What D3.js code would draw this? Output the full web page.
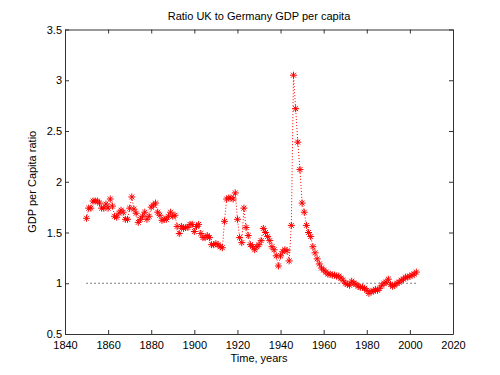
<!DOCTYPE html>
<html>
<head>
<meta charset="utf-8">
<script src="https://cdn.jsdelivr.net/npm/d3@7"></script>
<style>
  body { margin: 0; background: #fff; }
  svg text { font-family: "Liberation Sans", Arial, sans-serif; font-size: 11px; fill: #000; }
</style>
</head>
<body>
<div id="chart"></div>
<script>
// Ratio UK / Germany GDP per capita, one value per year from 1850
const firstYear = 1850;
const ratio = [
    1.64, 1.74, 1.74, 1.81, 1.81, 1.81, 1.79, 1.74, 1.74, 1.78,
    1.74, 1.83, 1.76, 1.66, 1.65, 1.69, 1.72, 1.70, 1.63, 1.63,
    1.74, 1.85, 1.73, 1.69, 1.60, 1.63, 1.66, 1.70, 1.63, 1.66,
    1.75, 1.77, 1.79, 1.70, 1.67, 1.62, 1.63, 1.63, 1.66, 1.70,
    1.66, 1.67, 1.56, 1.49, 1.56, 1.54, 1.55, 1.55, 1.58, 1.58,
    1.51, 1.56, 1.58, 1.49, 1.45, 1.45, 1.47, 1.45, 1.38, 1.38,
    1.39, 1.38, 1.36, 1.35, 1.61, 1.83, 1.84, 1.84, 1.83, 1.89,
    1.63, 1.45, 1.40, 1.74, 1.55, 1.47, 1.38, 1.36, 1.33, 1.36,
    1.38, 1.42, 1.54, 1.50, 1.46, 1.42, 1.36, 1.33, 1.27, 1.17,
    1.27, 1.31, 1.33, 1.32, 1.22, 1.57, 3.05, 2.72, 2.39, 2.12,
    1.79, 1.70, 1.57, 1.50, 1.46, 1.36, 1.30, 1.24, 1.19, 1.15,
    1.13, 1.11, 1.09, 1.09, 1.08, 1.08, 1.07, 1.07, 1.05, 1.03,
    1.00, 0.99, 0.98, 1.02, 1.00, 0.99, 0.97, 0.96, 0.96, 0.95,
    0.93, 0.90, 0.92, 0.92, 0.94, 0.93, 0.95, 0.98, 1.00, 1.01,
    1.04, 0.99, 0.97, 0.98, 1.00, 1.01, 1.03, 1.04, 1.06, 1.06,
    1.07, 1.08, 1.09, 1.11
];
const years = ratio.map((d, i) => firstYear + i);
const parityLevel = 1;

const xTicks = [1840, 1860, 1880, 1900, 1920, 1940, 1960, 1980, 2000, 2020];
const yTicks = [0.5, 1, 1.5, 2, 2.5, 3, 3.5];

const width = 500, height = 375;
const margin = { top: 29.5, right: 47, bottom: 41, left: 65 };

const svg = d3.select('#chart')
    .append('svg')
    .attr('width', width)
    .attr('height', height);

const x = d3.scaleLinear().domain([1840, 2020]).range([margin.left, width - margin.right]);
const y = d3.scaleLinear().domain([0.5, 3.5]).range([height - margin.bottom, margin.top]);

const data = years.map((yr, i) => ({ year: yr, value: ratio[i] }));

// axes box, matlab style ticks pointing inward
const tickLen = 4;
const axisColor = '#333';

const axes = [
    { axis: d3.axisBottom(x).tickValues(xTicks).tickFormat(d3.format('d')), pos: `translate(0,${y(0.5)})`, pad: 7 },
    { axis: d3.axisTop(x).tickValues(xTicks).tickFormat(''), pos: `translate(0,${y(3.5)})`, pad: 3 },
    { axis: d3.axisLeft(y).tickValues(yTicks).tickFormat(d3.format('')), pos: `translate(${x(1840)},0)`, pad: 3 },
    { axis: d3.axisRight(y).tickValues(yTicks).tickFormat(''), pos: `translate(${x(2020)},0)`, pad: 3 }
];

axes.forEach(a => {
    const g = svg.append('g')
        .attr('transform', a.pos)
        .call(a.axis.tickSizeInner(-tickLen).tickSizeOuter(0).tickPadding(a.pad));
    g.select('.domain').attr('stroke', axisColor);
    g.selectAll('.tick line').attr('stroke', axisColor);
    g.selectAll('.tick text')
        .style('font-family', '"Liberation Sans", Arial, sans-serif')
        .style('font-size', '11px')
        .attr('fill', '#000');
});

// parity reference line
svg.append('line')
    .attr('x1', x(years[0]))
    .attr('x2', x(years[years.length - 1]))
    .attr('y1', y(parityLevel))
    .attr('y2', y(parityLevel))
    .attr('stroke', '#000')
    .attr('stroke-width', 1)
    .attr('stroke-dasharray', '1,3');

// dotted series line
svg.append('path')
    .datum(data)
    .attr('fill', 'none')
    .attr('stroke', '#f00')
    .attr('stroke-width', 1)
    .attr('stroke-dasharray', '1,2')
    .attr('d', d3.line().x(d => x(d.year)).y(d => y(d.value)));

// asterisk markers
const r = 3.5;
const star = `M${-r},0H${r}M0,${-r}V${r}M${-r * 0.7},${-r * 0.7}L${r * 0.7},${r * 0.7}M${-r * 0.7},${r * 0.7}L${r * 0.7},${-r * 0.7}`;

svg.append('g')
    .selectAll('path')
    .data(data)
    .join('path')
    .attr('transform', d => `translate(${x(d.year)},${y(d.value)})`)
    .attr('d', star)
    .attr('fill', 'none')
    .attr('stroke', '#f00')
    .attr('stroke-width', 1);

// title and labels
svg.append('text')
    .attr('x', (margin.left + width - margin.right) / 2)
    .attr('y', 20)
    .attr('text-anchor', 'middle')
    .text('Ratio UK to Germany GDP per capita');

svg.append('text')
    .attr('x', (margin.left + width - margin.right) / 2)
    .attr('y', 362)
    .attr('text-anchor', 'middle')
    .text('Time, years');

svg.append('text')
    .attr('transform', `translate(36,${(margin.top + height - margin.bottom) / 2}) rotate(-90)`)
    .attr('text-anchor', 'middle')
    .text('GDP per Capita ratio');
</script>
</body>
</html>
